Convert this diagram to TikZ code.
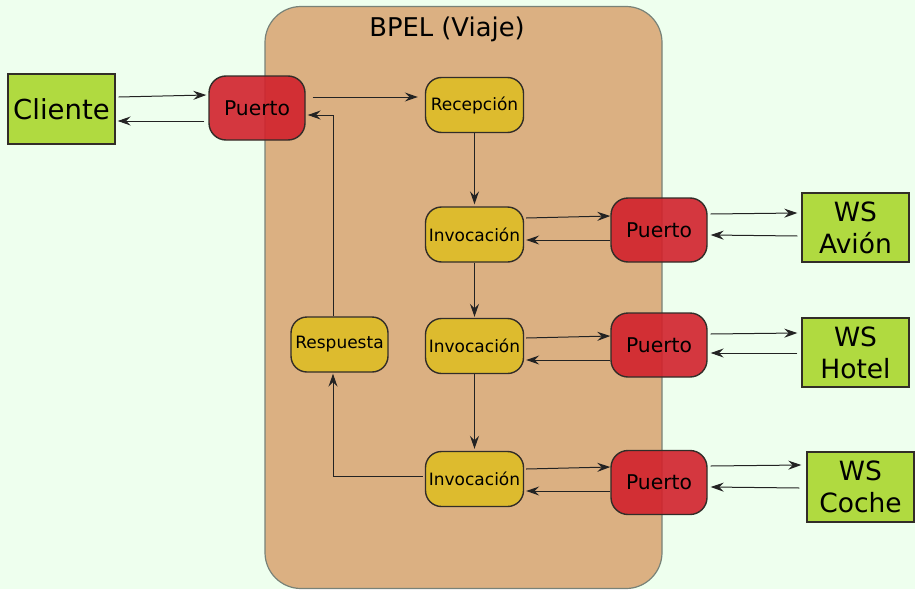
\documentclass[tikz,border=0pt]{standalone}
\usepackage{fontspec}
\setmainfont{DejaVu Sans}
\usetikzlibrary{arrows.meta}
\definecolor{bgc}{RGB}{238,255,238}
\definecolor{bpelc}{RGB}{219,176,130}
\definecolor{bpelb}{RGB}{120,130,120}
\definecolor{redc}{RGB}{210,34,44}
\definecolor{yelc}{RGB}{221,187,46}
\definecolor{grnc}{RGB}{176,218,64}
\definecolor{bordc}{RGB}{50,45,40}
\definecolor{arrc}{RGB}{35,35,35}
\tikzset{
  port/.style={draw=bordc, line width=1.4pt, fill=redc, fill opacity=0.9, text opacity=1,
    rounded corners=17pt, minimum width=96pt, minimum height=64pt, inner sep=0pt,
    font=\fontsize{20.3}{24}\selectfont},
  act/.style={draw=bordc, line width=1.4pt, fill=yelc, rounded corners=16pt,
    minimum width=98pt, minimum height=55pt, inner sep=0pt, font=\fontsize{17}{20}\selectfont},
  ws/.style={draw=bordc, line width=1.4pt, fill=grnc, minimum width=107pt, minimum height=70pt,
    inner sep=0pt, align=center, font=\fontsize{26.5}{32}\selectfont},
  arr/.style={draw=arrc, line width=1pt, -{Stealth[length=13pt,width=9pt,inset=4.5pt]}},
}
\begin{document}
\begin{tikzpicture}[x=1pt,y=-1pt]
\useasboundingbox[fill=bgc] (0,0) rectangle (915,589);
\node[draw=bpelb, line width=1.2pt, fill=bpelc, rounded corners=36pt,
      minimum width=397pt, minimum height=582pt, inner sep=0pt] (bpel) at (463.5,297.5) {};
\node[font=\fontsize{25.8}{30}\selectfont] (title) at (447,29) {BPEL (Viaje)};

\node[ws, font=\fontsize{27.5}{32}\selectfont] (cli) at (61.5,109) {Cliente};
\node[port] (p0) at (257,108) {Puerto};
\node[act] (rec) at (474.5,105) {Recepción};
\node[act] (inv1) at (474.5,234.5) {Invocación};
\node[port] (p1) at (659,230) {Puerto};
\node[ws, minimum height=69pt] (avion) at (855.5,227.5) {WS\\Avión};
\node[act] (inv2) at (474.5,346) {Invocación};
\node[port] (p2) at (659,345) {Puerto};
\node[ws, minimum height=69pt] (hotel) at (855.5,352.5) {WS\\Hotel};
\node[act, minimum width=97pt] (resp) at (339.5,344.5) {Respuesta};
\node[act] (inv3) at (474.5,479) {Invocación};
\node[port] (p3) at (659,482.5) {Puerto};
\node[ws] (coche) at (860.5,487) {WS\\Coche};

% Cliente <-> Puerto
\draw[arr] ([xshift=3pt,yshift=12pt]cli.east) -- ([xshift=-2pt,yshift=13pt]p0.west);
\draw[arr] ([xshift=-4pt,yshift=-13pt]p0.west) -- ([xshift=2pt,yshift=-12pt]cli.east);
% Puerto -> Recepcion
\draw[arr] ([xshift=7pt,yshift=11pt]p0.east) -- ([xshift=-7pt,yshift=8pt]rec.west);
% Respuesta -> Puerto
\draw[arr] ([xshift=-6.5pt]resp.north) |- ([xshift=2pt,yshift=-7pt]p0.east);
% vertical flow
\draw[arr, shorten >=2pt] (rec) -- (inv1);
\draw[arr, shorten >=1pt] (inv1) -- (inv2);
\draw[arr, shorten >=2pt] (inv2) -- (inv3);
\draw[arr, shorten >=1pt] ([xshift=-2pt,yshift=3pt]inv3.west) -| ([xshift=-6.5pt]resp.south);
% Invocacion 1 <-> Puerto 1
\draw[arr] ([xshift=2pt,yshift=16.5pt]inv1.east) -- ([yshift=14pt]p1.west);
\draw[arr] ([yshift=-10pt]p1.west) -- ([xshift=2pt,yshift=-5.5pt]inv1.east);
\draw[arr] ([xshift=3pt,yshift=16pt]p1.east) -- ([xshift=-4pt,yshift=14.5pt]avion.west);
\draw[arr] ([xshift=-4pt,yshift=-8.5pt]avion.west) -- ([xshift=3pt,yshift=-5pt]p1.east);
% Invocacion 2 <-> Puerto 2
\draw[arr] ([xshift=2pt,yshift=8pt]inv2.east) -- ([yshift=9pt]p2.west);
\draw[arr] ([yshift=-15pt]p2.west) -- ([xshift=2pt,yshift=-14pt]inv2.east);
\draw[arr] ([xshift=3pt,yshift=11pt]p2.east) -- ([xshift=-4pt,yshift=19.5pt]hotel.west);
\draw[arr] ([xshift=-4pt,yshift=-0.5pt]hotel.west) -- ([xshift=3pt,yshift=-8pt]p2.east);
% Invocacion 3 <-> Puerto 3
\draw[arr] ([xshift=2pt,yshift=10pt]inv3.east) -- ([yshift=15.5pt]p3.west);
\draw[arr] ([yshift=-8.5pt]p3.west) -- ([xshift=2pt,yshift=-12pt]inv3.east);
\draw[arr] ([xshift=3pt,yshift=16.5pt]p3.east) -- ([xshift=-5pt,yshift=22pt]coche.west);
\draw[arr] ([xshift=-7pt,yshift=-1pt]coche.west) -- ([xshift=3pt,yshift=-4.5pt]p3.east);
\end{tikzpicture}
\end{document}
